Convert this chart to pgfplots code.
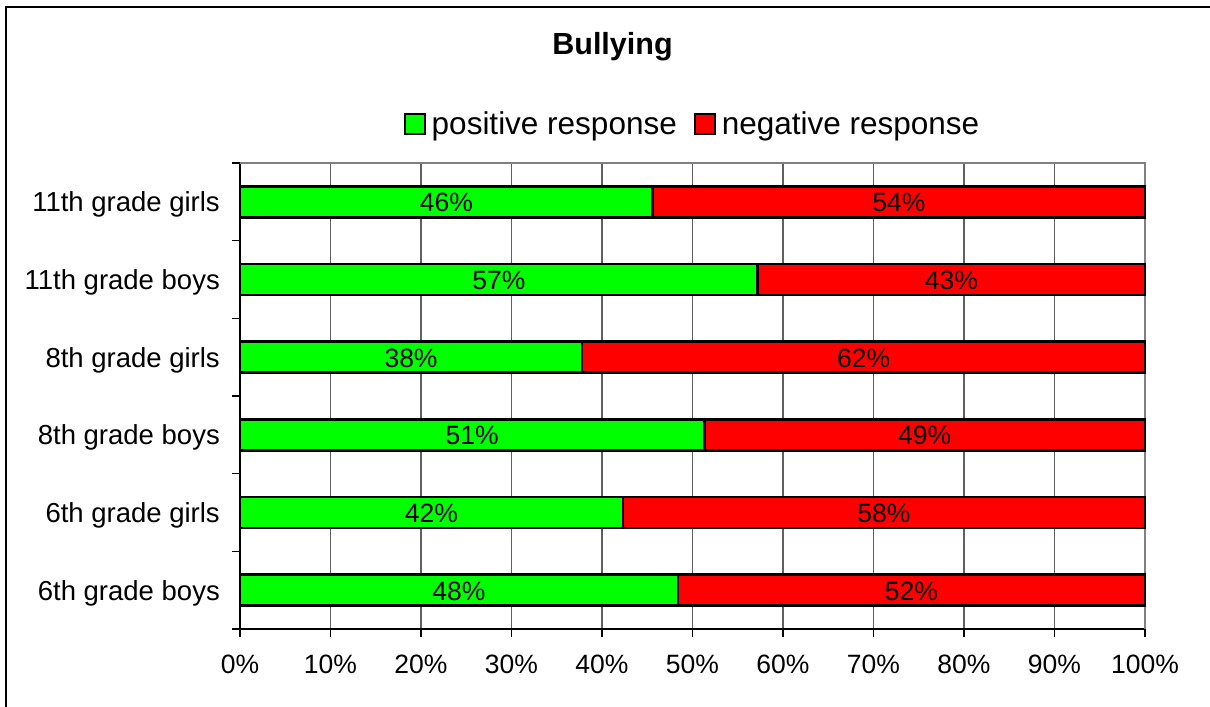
\documentclass[border=0pt]{standalone}
\usepackage{pgfplots}
\pgfplotsset{compat=1.18}
\usepackage{pgfplotstable}
\usepackage{fontspec}
\setmainfont{Liberation Sans}
\definecolor{posgreen}{HTML}{00FF00}
\definecolor{negred}{HTML}{FF0000}
\definecolor{framegray}{HTML}{808080}
\definecolor{gridgray}{HTML}{606060}

\pgfplotstableread{
cat pos neg
0 48.4 51.6
1 42.3 57.7
2 51.3 48.7
3 37.8 62.2
4 57.2 42.8
5 45.6 54.4
}\datatable

\begin{document}
\begin{tikzpicture}
\useasboundingbox (0,0) rectangle (1210bp,707bp);
\draw[line width=2bp] (6bp,-5bp) -- (6bp,700bp) -- (1215bp,700bp);
\begin{axis}[
  at={(240bp,78bp)}, anchor=south west,
  scale only axis, width=905bp, height=466bp,
  xmin=0, xmax=100, ymin=-0.5, ymax=5.5,
  axis lines*=left,
  axis line style={black, line width=2bp},
  clip=false,
  /pgf/number format/assume math mode=true,
  xtick={0,10,...,100},
  xticklabels={0\%,10\%,20\%,30\%,40\%,50\%,60\%,70\%,80\%,90\%,100\%},
  xmajorgrids,
  major grid style={draw=gridgray, line width=1.5bp},
  ytick={-0.5,0.5,...,5.5},
  yticklabels={},
  extra y ticks={0,1,2,3,4,5},
  extra y tick labels={6th grade boys, 6th grade girls, 8th grade boys\ , 8th grade girls, 11th grade boys, 11th grade girls},
  extra y tick style={major tick length=0pt},
  tick align=outside,
  major tick length=8bp,
  tick style={black, line width=1.5bp},
  xticklabel style={anchor=north, inner sep=0pt, yshift=-18bp, font=\fontsize{26.5bp}{30bp}\selectfont},
  yticklabel style={anchor=base east, inner sep=0pt, xshift=-20bp, yshift=-10bp, font=\fontsize{27.5bp}{32bp}\selectfont},
  legend image code/.code={\draw[#1, line width=2bp] (0bp,-10bp) rectangle (20bp,10bp); \path[draw=none, fill=none] (-1bp,0bp) rectangle (25bp,0.1bp);},
  legend columns=2,
  legend style={at={(0.5,1.0837)}, anchor=center, draw=none, fill=none,
    font=\fontsize{31.5bp}{36bp}\selectfont,
    /tikz/every even column/.append style={column sep=15bp}},
  legend cell align=left,
]
\draw[framegray, line width=2.5bp] (rel axis cs:0,1) -- (rel axis cs:1,1) -- (rel axis cs:1,0);
\addplot[xbar, bar width=31bp, bar shift=0pt, fill=negred, draw=black, line width=2.5bp, forget plot]
  table[x expr=\thisrow{pos}+\thisrow{neg}, y=cat] {\datatable};
\addplot[xbar, bar width=31bp, bar shift=0pt, fill=posgreen, draw=black, line width=2.5bp, forget plot]
  table[x=pos, y=cat] {\datatable};
\addplot[draw=none, mark=none, forget plot, point meta=explicit,
  nodes near coords={\pgfmathprintnumber[fixed,precision=0]{\pgfplotspointmeta}\%},
  every node near coord/.append style={anchor=center, yshift=-1bp, inner sep=0pt, font=\fontsize{26.5bp}{30bp}\selectfont}]
  table[x expr=\thisrow{pos}/2, y=cat, meta=pos] {\datatable};
\addplot[draw=none, mark=none, forget plot, point meta=explicit,
  nodes near coords={\pgfmathprintnumber[fixed,precision=0]{\pgfplotspointmeta}\%},
  every node near coord/.append style={anchor=center, yshift=-1bp, inner sep=0pt, font=\fontsize{26.5bp}{30bp}\selectfont}]
  table[x expr=\thisrow{pos}+\thisrow{neg}/2, y=cat, meta=neg] {\datatable};
\addlegendimage{fill=posgreen, draw=black}
\addlegendentry{positive response}
\addlegendimage{fill=negred, draw=black}
\addlegendentry{negative response}
\end{axis}
\node[anchor=base, font=\bfseries\fontsize{30.5bp}{34bp}\selectfont] at (612.5bp,652bp) {Bullying};
\end{tikzpicture}
\end{document}
